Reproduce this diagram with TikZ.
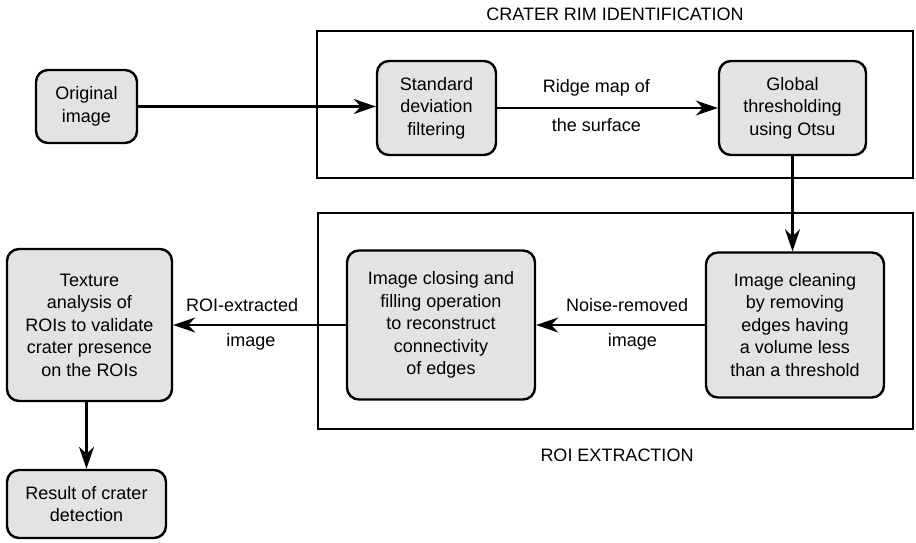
\documentclass[tikz,border=0pt]{standalone}
\usepackage{fontspec}
\setmainfont{Liberation Sans}
\usetikzlibrary{arrows.meta}
\definecolor{boxgray}{gray}{0.89}
\begin{document}
\begin{tikzpicture}[x=1pt, y=-1pt, font=\fontsize{18}{22.5}\selectfont,
    box/.style={draw, line width=2.4pt, rounded corners=12pt, fill=boxgray, align=center, inner sep=0pt},
    stage/.style={draw, line width=2.4pt, inner sep=0pt},
    flow/.style={-{Stealth[length=22pt, width=15pt, inset=7pt]}, line width=2.2pt}]
  \useasboundingbox (0,0) rectangle (916,543);

  % Stage frames
  \node[stage, minimum width=596pt, minimum height=147pt] (rim) at (615,104.5) {};
  \node (rimtitle) at (615,14) {CRATER RIM IDENTIFICATION};
  \node[stage, minimum width=595pt, minimum height=216pt] (roi) at (615.5,321) {};
  \node (roititle) at (617,455) {ROI EXTRACTION};

  % Steps
  \node[box, minimum width=101pt, minimum height=73pt] (orig) at (86.5,106.5) {Original\\image};
  \node[box, minimum width=119pt, minimum height=94pt] (std) at (436.5,108) {Standard\\deviation\\filtering};
  \node[box, minimum width=147pt, minimum height=94pt] (glob) at (792.5,108) {Global\\thresholding\\using Otsu};
  \node[box, minimum width=178pt, minimum height=145pt] (clean) at (795,325) {Image cleaning\\by removing\\edges having\\a volume less\\than a threshold};
  \node[box, minimum width=188pt, minimum height=149pt] (close) at (441,325) {Image closing and\\filling operation\\to reconstruct\\connectivity\\of edges};
  \node[box, minimum width=165pt, minimum height=152pt] (tex) at (89.5,325) {Texture\\analysis of\\ROIs to validate\\crater presence\\on the ROIs};
  \node[box, minimum width=159pt, minimum height=68pt] (res) at (86.5,504) {Result of crater\\detection};

  % Flow
  \draw[flow] (orig.east) -- (orig.east -| std.west);
  \draw[flow] (std) -- (glob)
    node[pos=0.45, yshift=20pt] {Ridge map of} node[pos=0.45, yshift=-17pt] {the surface};
  \draw[flow] (glob) -- (glob |- clean.north);
  \draw[flow] (clean) -- (close)
    node[pos=0.46, yshift=20pt] {Noise-removed} node[pos=0.43, yshift=-17pt] {image};
  \draw[flow] (close) -- (tex)
    node[pos=0.6, yshift=20pt] {ROI-extracted} node[pos=0.55, yshift=-17pt] {image};
  \draw[flow] (tex.south -| res.north) -- (res.north);
\end{tikzpicture}
\end{document}
